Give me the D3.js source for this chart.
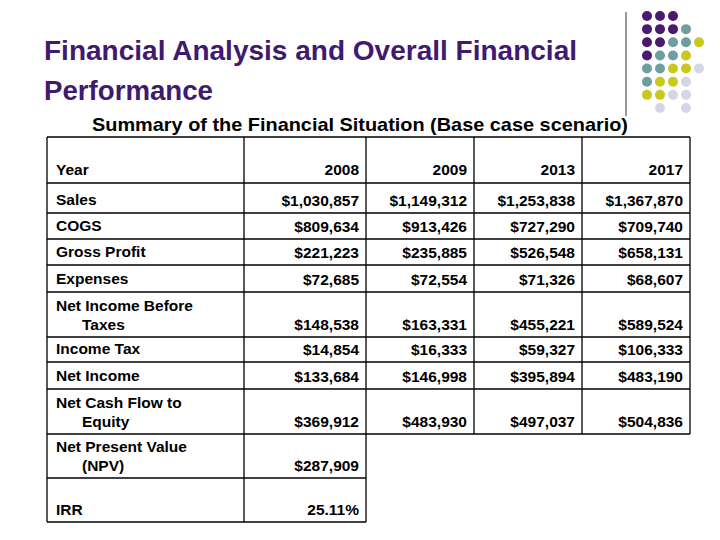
<!DOCTYPE html><html><head><meta charset="utf-8"><script src="https://cdn.jsdelivr.net/npm/d3@7"></script>
<style>body{margin:0;background:#fff}svg{font-family:"Liberation Sans",Arial,sans-serif}</style></head><body>
<svg id="c" width="720" height="540"></svg>
<script>
const years = ["2008","2009","2013","2017"];
const rowLabels = [["Sales"],["COGS"],["Gross Profit"],["Expenses"],["Net Income Before","Taxes"],["Income Tax"],["Net Income"],["Net Cash Flow to","Equity"],["Net Present Value","(NPV)"],["","IRR"]];
const sales = ["$1,030,857","$1,149,312","$1,253,838","$1,367,870"];
const cogs = ["$809,634","$913,426","$727,290","$709,740"];
const grossProfit = ["$221,223","$235,885","$526,548","$658,131"];
const expenses = ["$72,685","$72,554","$71,326","$68,607"];
const nibt = ["$148,538","$163,331","$455,221","$589,524"];
const incomeTax = ["$14,854","$16,333","$59,327","$106,333"];
const netIncome = ["$133,684","$146,998","$395,894","$483,190"];
const netCashFlow = ["$369,912","$483,930","$497,037","$504,836"];
const npv = ["$287,909"];
const irr = ["25.11%"];
const rowValues = [sales,cogs,grossProfit,expenses,nibt,incomeTax,netIncome,netCashFlow,npv,irr];
const rowEdges = [137,183,213,239,265,292,337,362,389,434,478,522];
const colEdges = [47,244,366,474,582,690];

const svg = d3.select("#c");
const dotPattern = ["PPP..","PPPT.","PPTTY","PTTY.","TTYYL","TYYL.","YYLL.",".L.L."];
const dotColor = {P:"#4a1a6e",T:"#6e9ea2",Y:"#c9c81c",L:"#d5d5e8"};
const dx = d3.scaleLinear().domain([0,4]).range([647,699]);
const dy = d3.scaleLinear().domain([0,7]).range([16,108]);
dotPattern.forEach((r,i)=>r.split("").forEach((ch,j)=>{ if(ch!==".") svg.append("circle").attr("cx",dx(j)).attr("cy",dy(i)).attr("r",5).attr("fill",dotColor[ch]);}));
svg.append("line").attr("x1",626).attr("x2",626).attr("y1",12).attr("y2",116).attr("stroke","#999").attr("stroke-width",2);

svg.append("text").attr("x",44).attr("y",60).text("Financial Analysis and Overall Financial").attr("fill","#3f1a6e").attr("font-weight","bold").attr("font-size",27).attr("textLength",533).attr("lengthAdjust","spacingAndGlyphs");
svg.append("text").attr("x",44).attr("y",100).text("Performance").attr("fill","#3f1a6e").attr("font-weight","bold").attr("font-size",27).attr("textLength",169).attr("lengthAdjust","spacingAndGlyphs");
svg.append("text").attr("x",92).attr("y",131).text("Summary of the Financial Situation (Base case scenario)").attr("font-weight","bold").attr("font-size",19).attr("textLength",536).attr("lengthAdjust","spacingAndGlyphs");

const g = svg.append("g").attr("stroke","#000").attr("stroke-width",1.3);
const ln=(x1,y1,x2,y2)=>g.append("line").attr("x1",x1).attr("y1",y1).attr("x2",x2).attr("y2",y2);
rowEdges.forEach((y,i)=>{ const right = i>=10 ? colEdges[2] : colEdges[5]; ln(colEdges[0],y,right,y);});
colEdges.forEach((x,i)=>{ const bottom = i<=2 ? rowEdges[11] : rowEdges[9]; ln(x,rowEdges[0],x,bottom);});

const T = svg.append("g").attr("font-size",15.5).attr("font-weight","bold").attr("fill","#000");
T.append("text").attr("x",56).attr("y",rowEdges[1]-8).text("Year");
years.forEach((y,j)=>T.append("text").attr("x",colEdges[j+2]-7).attr("y",rowEdges[1]-8).attr("text-anchor","end").text(y));
rowLabels.forEach((lab,i)=>{
  const bottom = rowEdges[i+2];
  if(lab.length===1){ T.append("text").attr("x",56).attr("y",bottom-8).text(lab[0]); }
  else { T.append("text").attr("x",56).attr("y",bottom-26).text(lab[0]); T.append("text").attr("x",lab[0]?82:56).attr("y",bottom-7).text(lab[1]); }
  rowValues[i].forEach((v,j)=>T.append("text").attr("x",colEdges[j+2]-7).attr("y",bottom-7).attr("text-anchor","end").text(v));
});
</script></body></html>
